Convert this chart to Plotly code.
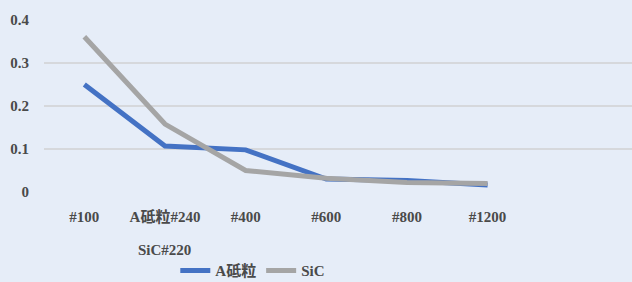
import plotly.graph_objects as go

categories = ["#100", "A砥粒#240", "#400", "#600", "#800", "#1200"]
second_line = "SiC#220"
a_grain = [0.25, 0.107, 0.098, 0.030, 0.027, 0.016]
sic = [0.361, 0.158, 0.050, 0.032, 0.022, 0.020]
y_ticks = [0, 0.1, 0.2, 0.3, 0.4]
y_tick_labels = ["0", "0.1", "0.2", "0.3", "0.4"]

FONT = "Liberation Serif, DejaVu Serif, Noto Sans CJK JP, serif"
TXT = "#4a4a4a"

fig = go.Figure()
fig.add_trace(go.Scatter(x=list(range(len(categories))), y=a_grain, mode="lines",
                         name="<b>A砥粒</b>", line=dict(color="#4472C4", width=5)))
fig.add_trace(go.Scatter(x=list(range(len(categories))), y=sic, mode="lines",
                         name="<b>SiC</b>", line=dict(color="#A5A5A5", width=5)))

fig.add_annotation(x=1, y=-0.337, xref="x", yref="paper", yanchor="middle",
                   text="<b>" + second_line + "</b>",
                   showarrow=False, font=dict(family=FONT, size=15, color=TXT))

fig.update_layout(
    width=632, height=282,
    margin=dict(l=44, r=0, t=20, b=90, autoexpand=False),
    paper_bgcolor="#E6EDF8", plot_bgcolor="rgba(0,0,0,0)",
    font=dict(family=FONT, size=15, color=TXT),
    showlegend=True,
    legend=dict(orientation="h", x=0.40, xanchor="center", xref="container",
                y=0.04, yanchor="middle", yref="container",
                bgcolor="rgba(0,0,0,0)", font=dict(family=FONT, size=15, color=TXT),
                itemwidth=30, tracegroupgap=0),
    xaxis=dict(range=[-0.5, 6.79], tickmode="array", tickvals=list(range(len(categories))),
               ticktext=["<b>" + c + "</b>" for c in categories], showgrid=False,
               zeroline=False, showline=False, ticks="", ticklabelstandoff=14),
    yaxis=dict(range=[0, 0.4], tickmode="array", tickvals=y_ticks,
               ticktext=["<b>" + t + "</b>" for t in y_tick_labels],
               showgrid=True, gridcolor="#D6D8DC", gridwidth=1.5, zeroline=False,
               showline=False, ticks="", ticklabelstandoff=14),
)
fig.write_html("out.html", config={"displayModeBar": False},
               post_script="document.body.style.margin='0';document.body.style.overflow='hidden';")
